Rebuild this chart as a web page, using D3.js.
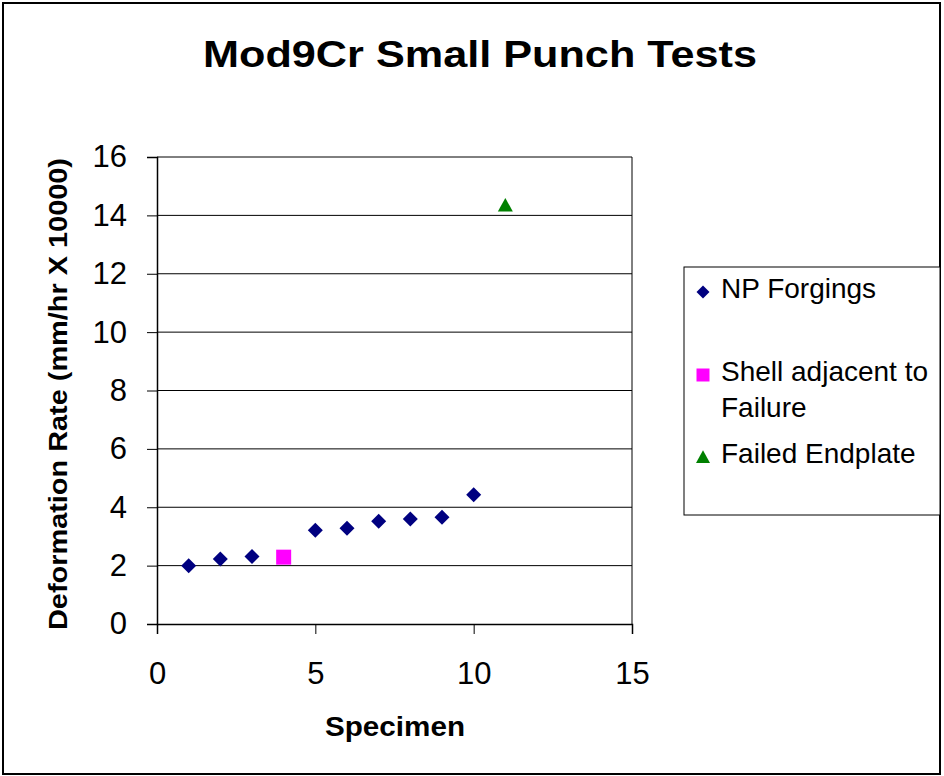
<!DOCTYPE html>
<html><head><meta charset="utf-8">
<script src="https://cdn.jsdelivr.net/npm/d3@7"></script>
<style>body{margin:0;background:#fff}svg{display:block}text{font-family:"Liberation Sans",Arial,sans-serif}</style>
</head><body><svg id="c" width="944" height="776"></svg>
<script>
const npX = [1,2,3,5,6,7,8,9,10];
const npY = [2.0,2.23,2.31,3.21,3.28,3.52,3.60,3.66,4.43];
const shellX = [4];
const shellY = [2.29];
const failX = [11];
const failY = [14.35];
const xTicks = [0,5,10,15];
const yTicks = [0,2,4,6,8,10,12,14,16];
const legendLabels = [["NP Forgings"],["Shell adjacent to","Failure"],["Failed Endplate"]];

const svg = d3.select("#c");
svg.append("rect").attr("x",3).attr("y",3).attr("width",937).attr("height",771)
  .attr("fill","#fff").attr("stroke","#000").attr("stroke-width",2);

const L=157,R=632,T=157,B=624;
const x = d3.scaleLinear().domain([0,15]).range([L,R]);
const y = d3.scaleLinear().domain([0,16]).range([B,T]);

// gridlines
svg.append("g").selectAll("line").data(yTicks.filter(d=>d>0)).join("line")
  .attr("x1",L).attr("x2",R).attr("y1",d=>y(d)).attr("y2",d=>y(d))
  .attr("stroke","#000").attr("stroke-width",1);
svg.append("line").attr("x1",R).attr("x2",R).attr("y1",T).attr("y2",B).attr("stroke","#000");

const ya = svg.append("g").attr("transform",`translate(${L},0)`)
  .call(d3.axisLeft(y).tickValues(yTicks).tickSize(10).tickPadding(20).tickFormat(d3.format("d")));
const xa = svg.append("g").attr("transform",`translate(0,${B})`)
  .call(d3.axisBottom(x).tickValues(xTicks).tickSize(10).tickPadding(28).tickFormat(d3.format("d")));
[ya,xa].forEach(a=>{
  a.select(".domain").attr("stroke","#000").attr("stroke-width",1.5);
  a.selectAll(".tick line").attr("stroke","#000");
  a.selectAll("text").attr("font-size",31).attr("fill","#000").attr("font-family","Liberation Sans, Arial, sans-serif");
});

function diamondPath(s){return `M0,${-s}L${s},0L0,${s}L${-s},0Z`;}
function squarePath(s){return `M${-s},${-s}H${s}V${s}H${-s}Z`;}
function triPath(s){return `M0,${-s*0.95}L${s},${s*0.85}L${-s},${s*0.85}Z`;}

svg.append("g").selectAll("path").data(npX.map((d,i)=>[d,npY[i]])).join("path")
  .attr("d",diamondPath(7.5)).attr("fill","#000080")
  .attr("transform",d=>`translate(${x(d[0])},${y(d[1])})`);
svg.append("g").selectAll("path").data(shellX.map((d,i)=>[d,shellY[i]])).join("path")
  .attr("d",squarePath(7.5)).attr("fill","#FF00FF")
  .attr("transform",d=>`translate(${x(d[0])},${y(d[1])})`);
svg.append("g").selectAll("path").data(failX.map((d,i)=>[d,failY[i]])).join("path")
  .attr("d",triPath(7.5)).attr("fill","#008000")
  .attr("transform",d=>`translate(${x(d[0])},${y(d[1])})`);

// title
svg.append("text").attr("x",480).attr("y",67).attr("text-anchor","middle")
  .attr("font-size",37).attr("font-weight","bold").attr("textLength",554).attr("lengthAdjust","spacingAndGlyphs")
  .text("Mod9Cr Small Punch Tests");
svg.append("text").attr("x",395).attr("y",736).attr("text-anchor","middle")
  .attr("font-size",27).attr("font-weight","bold").attr("textLength",140).attr("lengthAdjust","spacingAndGlyphs").text("Specimen");
svg.append("text").attr("transform","translate(67,394) rotate(-90)").attr("text-anchor","middle")
  .attr("font-size",26).attr("font-weight","bold").attr("textLength",472).attr("lengthAdjust","spacingAndGlyphs")
  .text("Deformation Rate (mm/hr X 10000)");

// legend
svg.append("rect").attr("x",684).attr("y",267).attr("width",256).attr("height",248)
  .attr("fill","#fff").attr("stroke","#000").attr("stroke-width",1);
const legMarkY=[292,375,457];
const legTextY=[298,381,463];
const legCol=["#000080","#FF00FF","#008000"];
const legShape=[diamondPath(6.5),squarePath(6.5),triPath(7)];
legendLabels.forEach((lines,i)=>{
  svg.append("path").attr("d",legShape[i]).attr("fill",legCol[i]).attr("transform",`translate(703,${legMarkY[i]})`);
  const t=svg.append("text").attr("x",721).attr("y",legTextY[i]).attr("font-size",28);
  lines.forEach((ln,j)=>t.append("tspan").attr("x",721).attr("dy",j?36:0).text(ln));
});
</script></body></html>
